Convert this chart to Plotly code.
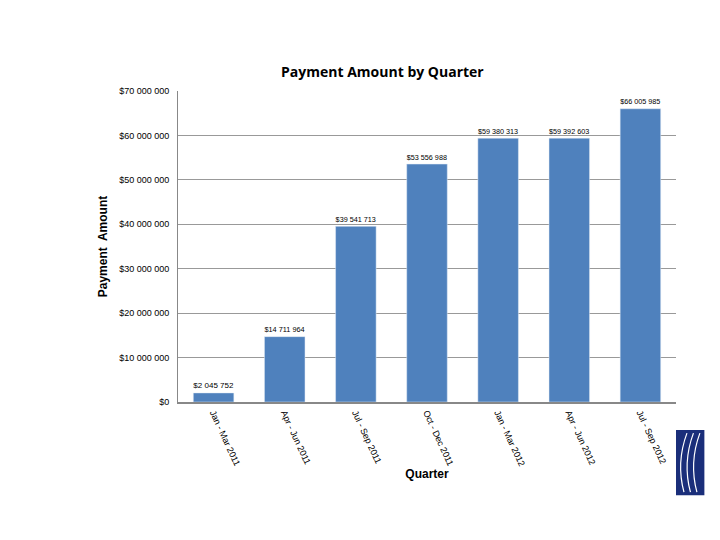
import plotly.graph_objects as go

quarters = ["Jan - Mar 2011", "Apr - Jun 2011", "Jul - Sep 2011", "Oct - Dec 2011",
            "Jan - Mar 2012", "Apr - Jun 2012", "Jul - Sep 2012"]
amounts = [2045752, 14711964, 39541713, 53556988, 59380313, 59392603, 66005985]
tick_vals = list(range(0, 70000001, 10000000))


def money(v):
    return "$" + f"{v:,}".replace(",", " ")


fig = go.Figure(go.Bar(
    x=quarters, y=amounts,
    marker_color="#4F81BD", width=0.57,
    text=[money(v) for v in amounts], textposition="outside",
    textfont=dict(size=10, color="black"), cliponaxis=False,
))

fig.update_layout(
    width=720, height=540,
    paper_bgcolor="white", plot_bgcolor="white",
    margin=dict(l=170, r=52, t=83, b=146),
    font=dict(family="Liberation Sans, Arial", color="black"),
    title=dict(text="<b>Payment Amount by Quarter</b>", x=0.52, y=0.89,
               font=dict(size=14, family="Open Sans")),
    showlegend=False,
)
fig.update_xaxes(
    tickangle=65, tickfont=dict(size=9), showline=True, linecolor="#888888",
    linewidth=2, ticks="", title=dict(text="<b>Quarter</b>", font=dict(size=12), standoff=2),
)
fig.update_yaxes(
    range=[0, 70000000], tickvals=tick_vals, ticktext=[money(v) for v in tick_vals],
    tickfont=dict(size=9), showgrid=True, gridcolor="#999999", gridwidth=1.2,
    showline=True, linecolor="#888888", zeroline=False, ticklabelstandoff=6,
    title=dict(text="<b>Payment  Amount</b>", font=dict(size=12), standoff=8),
)

# logo
fig.add_shape(type="rect", xref="paper", yref="paper", x0=1.0, x1=1.057, y0=-0.30, y1=-0.09,
              fillcolor="#1A2E7A", line_width=0)
for dx in (0.012, 0.025, 0.038):
    fig.add_shape(type="path", xref="paper", yref="paper",
                  path=f"M {1.0+dx+0.01},-0.10 Q {1.0+dx-0.012},-0.195 {1.0+dx+0.004},-0.29",
                  line=dict(color="white", width=1.2))

fig.write_html("out.html")
